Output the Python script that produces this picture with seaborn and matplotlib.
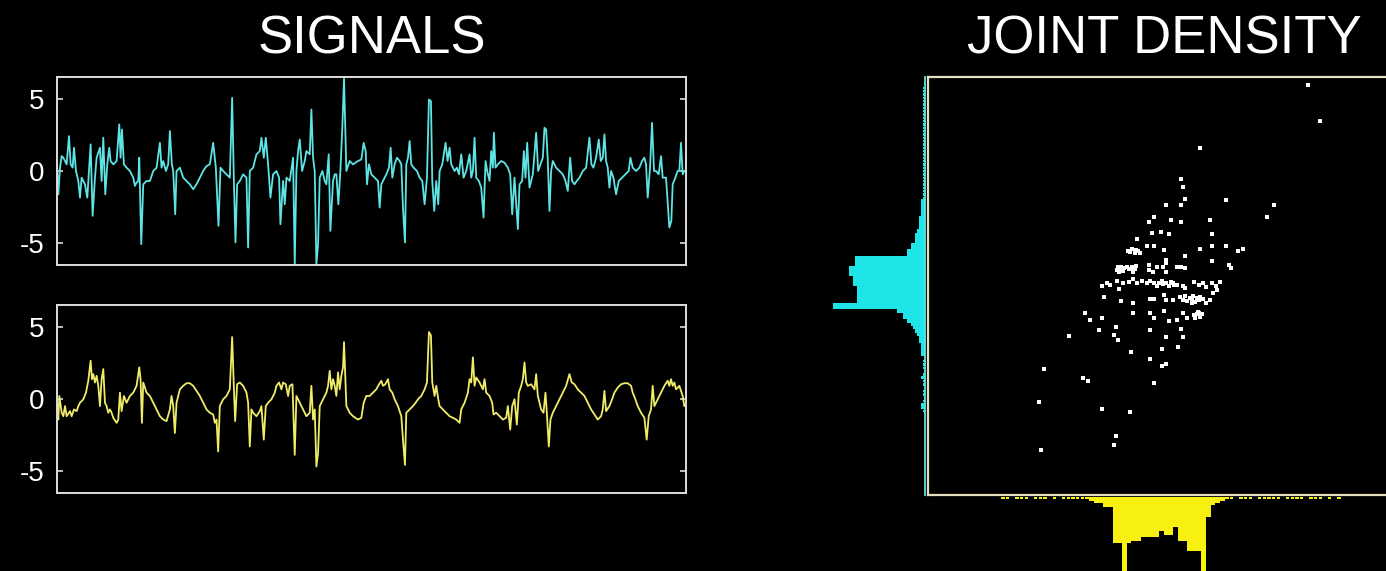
import numpy as np
import pandas as pd
import matplotlib
matplotlib.use("Agg")
import matplotlib.pyplot as plt
import seaborn as sns

# ---------------------------------------------------------------- data
# Signal 1 (cyan): sample time (ms) and amplitude
cyan_t = [1, 4, 9, 14, 19, 29, 36, 41, 47, 51,
          57, 64, 69, 74, 84, 91, 101, 107, 114, 119,
          129, 134, 139, 145, 151, 157, 161, 169, 179, 187,
          191, 195, 201, 209, 219, 229, 234, 239, 244, 247,
          253, 259, 269, 279, 289, 299, 309, 314, 319, 327,
          334, 339, 345, 349, 355, 359, 369, 379, 389, 399,
          409, 419, 429, 439, 449, 459, 469, 477, 485, 491,
          499, 509, 519, 526, 531, 536, 541, 549, 559, 569,
          574, 579, 589, 599, 609, 614, 621, 627, 634, 641,
          649, 659, 667, 671, 679, 684, 689, 699, 709, 714,
          719, 724, 729, 736, 744, 749, 759, 764, 769, 774,
          779, 784, 789, 797, 804, 809, 816, 821, 829, 834,
          839, 845, 851, 857, 862,
          869, 879, 889, 904, 914, 921, 927, 931, 937, 944,
          954, 964, 969, 974, 979, 989, 997, 1002, 1007, 1014,
          1021, 1029, 1034, 1039, 1045, 1049, 1054, 1059, 1064, 1071,
          1081, 1089, 1097, 1104, 1111, 1117, 1123, 1127, 1133, 1139,
          1145, 1149, 1157, 1167, 1173, 1179, 1184, 1194, 1201, 1207,
          1214, 1221, 1229, 1239, 1244, 1249, 1254, 1259, 1267, 1274,
          1281, 1287, 1292, 1299, 1304, 1309, 1312, 1317, 1324, 1334,
          1344, 1354, 1361, 1367, 1374, 1384, 1389, 1397, 1402, 1407,
          1412, 1419, 1424, 1429, 1439, 1445, 1452, 1459, 1464, 1469,
          1474, 1479, 1484, 1489, 1499, 1509, 1519, 1527, 1534, 1541,
          1547, 1554, 1561, 1569, 1579, 1589, 1599, 1605, 1611, 1619,
          1627, 1633, 1639, 1644, 1649, 1654, 1659, 1664, 1671, 1679,
          1687, 1697, 1707, 1717, 1722, 1729, 1739, 1749, 1757, 1764,
          1769, 1774, 1781, 1787, 1793, 1799, 1807, 1814, 1819, 1829,
          1839, 1845, 1849, 1857, 1864, 1869, 1874, 1879, 1884]
cyan_v = [0.00, -1.61, 0.23, 1.03, 0.92, 0.46, 2.41, 0.46, 0.23, 1.61,
          0.00, -0.69, -1.84, -0.46, -0.92, -1.84, 1.84, -3.10, -0.46, 0.92,
          1.61, -0.69, 2.30, -1.61, 0.46, 1.61, 0.69, 0.46, 0.69, 3.22,
          0.92, 2.87, 0.46, 0.23, 0.00, -0.46, -1.03, -0.80, -0.69, 0.92,
          -5.06, -0.92, -0.69, -0.69, 0.00, 0.23, 1.95, 0.23, 0.69, 0.00,
          0.46, 2.76, 0.46, 0.00, -2.99, 0.00, 0.23, -0.46, -0.69, -0.92,
          -1.26, -0.92, -0.46, 0.00, 0.34, 0.46, 1.95, 0.23, -3.79, 0.23,
          0.00, -0.23, -0.46, 5.06, -0.46, -4.94, -0.92, -0.69, -0.23, -0.46,
          -5.29, 0.00, 0.23, 1.15, 1.38, 2.30, 0.92, 2.30, 0.46, -1.84,
          -0.23, 0.00, -0.46, -3.68, -0.69, -2.30, -0.46, -0.69, 0.92, -6.44,
          0.00, 1.38, 2.18, 0.00, 0.69, 1.38, 1.15, 4.25, 0.92, 0.00,
          -6.44, -5.06, -0.46, 0.00, -0.69, -0.92, 1.15, -4.14, -0.69, -0.23,
          -0.23, -2.30, 0.00, 3.10, 6.40,
          0.00, 0.69, 0.46, 0.69, 0.80, 1.95, 1.38, -0.92, 0.46, -0.23,
          -0.46, -0.69, -2.53, -0.92, -0.69, -0.23, 0.23, 1.61, -0.46, 0.46,
          0.92, 0.69, 0.46, -2.53, -4.94, 0.46, 0.92, 2.07, 0.46, 0.23,
          0.00, -0.46, -0.69, -2.30, -0.46, 4.94, 4.83, -0.69, -2.76, -0.69,
          -2.30, 0.00, 0.46, 1.95, 0.69, 1.61, 0.46, 0.00, 0.23, -0.23,
          1.15, -0.46, 0.00, 1.15, -0.46, 0.00, 2.30, -0.46, -0.69, -1.15,
          -3.22, 0.69, 0.00, -0.69, 1.38, 0.23, 2.64, 0.23, 0.46, 0.69,
          0.57, 0.23, -0.23, -2.99, -0.46, -4.02, -0.92, -0.69, 1.38, -0.46,
          1.95, -1.15, -0.69, -0.23, 2.64, 0.00, 0.46, 0.92, 2.99, 2.87,
          0.69, -2.76, 0.00, 0.69, 0.23, 0.00, -0.23, -0.69, -1.38, 0.92,
          -0.69, -0.92, -0.69, -0.46, 0.00, 0.23, 2.30, 0.46, 0.23, 0.92,
          2.18, 0.69, 0.92, 2.53, 0.69, 0.23, -1.15, 0.00, -0.46, -1.61,
          -0.69, -0.46, -0.23, 0.00, 0.92, 0.23, 0.00, 0.23, 0.69, 0.92,
          0.46, -1.84, 0.23, 3.33, 0.00, 0.00, -0.23, 1.03, -0.46, -0.46,
          -3.91, -3.45, -0.92, -0.46, 0.00, 0.00, 1.95, -0.23, 0.00]

# Signal 2 (yellow): sample time (ms) and amplitude
yellow_t = [1, 4, 7, 14, 19, 24, 29, 39, 44, 51,
            59, 64, 69, 79, 87, 94, 101, 105, 109, 114,
            119, 124, 129, 134, 139, 144, 149, 154, 159, 164,
            169, 179, 184, 189, 194, 201, 209, 219, 229, 239,
            247, 251, 255, 259, 269, 279, 289, 299, 309, 319,
            329, 339, 344, 349, 354, 359, 369, 379, 389, 399,
            409, 419, 429, 439, 449, 459, 469, 474, 479, 484,
            489, 499, 509, 519, 526, 531, 535, 541, 549, 559,
            569, 574, 579, 584, 589, 599, 609, 614, 621, 627,
            634, 644, 654, 659, 667, 674, 679, 687, 694, 699,
            707, 714, 719, 729, 739, 749, 759, 764, 769, 774,
            779, 784, 789, 799, 809, 814, 819, 824, 829, 834,
            839, 844, 849, 854, 859, 862,
            869, 879, 889, 904, 914, 921, 929, 939, 949, 959,
            967, 974, 979, 986, 994, 999, 1007, 1014, 1024, 1034,
            1039, 1045, 1049, 1059, 1069, 1077, 1084, 1094, 1104, 1111,
            1117, 1123, 1127, 1134, 1139, 1145, 1149, 1159, 1169, 1179,
            1189, 1199, 1209, 1214, 1224, 1234, 1239, 1244, 1249, 1254,
            1259, 1269, 1279, 1284, 1289, 1299, 1307, 1311, 1319, 1329,
            1339, 1349, 1354, 1361, 1367, 1374, 1381, 1387, 1394, 1399,
            1404, 1409, 1414, 1424, 1434, 1439, 1444, 1449, 1454, 1461,
            1467, 1471, 1477, 1482, 1489, 1499, 1509, 1519, 1529, 1539,
            1546, 1554, 1564, 1574, 1584, 1594, 1604, 1614, 1624, 1634,
            1639, 1644, 1649, 1659, 1667, 1674, 1684, 1694, 1704, 1714,
            1724, 1729, 1737, 1744, 1754, 1764, 1771, 1777, 1784, 1789,
            1794, 1804, 1814, 1824, 1834, 1839, 1844, 1849, 1854, 1859,
            1869, 1879, 1884]
yellow_v = [-0.49, -1.42, 0.21, -0.95, -1.19, -0.49, -1.19, -0.84, -1.19, -0.72,
            -0.84, -0.49, -0.26, -0.02, 0.44, 1.26, 2.65, 1.37, 1.72, 1.14,
            1.60, 0.91, -0.49, 1.37, 2.07, -0.26, -0.49, -0.95, -0.72, -0.95,
            -1.30, -1.65, -1.42, 0.44, -0.84, 0.21, -0.26, 0.21, 0.44, 0.91,
            2.19, 1.37, -1.65, 1.14, 0.44, 0.21, -0.26, -0.72, -1.19, -1.42,
            -1.53, -0.72, 0.21, -0.49, -2.35, -0.26, 0.67, 0.91, 1.09, 1.09,
            0.91, 0.56, 0.21, -0.26, -0.72, -0.95, -1.07, -1.65, -1.42, -3.63,
            -0.49, -0.02, 0.21, 0.67, 4.28, 0.91, -1.53, 1.02, 1.14, 0.91,
            0.44, -0.26, -3.28, -0.72, -0.95, -1.19, -0.84, -0.49, -2.81, -0.49,
            -0.26, -0.02, 0.44, 0.91, 1.14, 0.67, 1.14, 1.02, 0.21, 0.91,
            1.02, -3.86, 0.21, -0.26, -0.72, -1.19, -0.95, 0.91, -1.42, -0.72,
            -4.67, -3.74, -0.49, -0.02, 0.44, 0.91, 1.95, 0.67, 1.37, 0.91,
            0.21, 1.84, 0.67, 1.60, 2.19, 3.93,
            -0.49, -0.95, -1.19, -1.42, -1.30, -0.26, 0.21, 0.21, 0.44, 0.67,
            1.02, 1.26, 0.91, 1.02, 1.37, 0.67, 0.44, -0.02, -0.49, -1.19,
            -2.81, -4.56, -0.95, -0.72, -0.49, -0.26, -0.02, 0.21, 0.67, 1.14,
            4.63, 4.40, 1.14, 0.21, 0.91, -0.02, -0.49, -0.72, -0.95, -1.19,
            -1.30, -1.42, -1.65, -0.72, -0.26, 0.44, 1.37, 1.14, 2.88, 0.91,
            1.49, 1.14, 0.67, 1.37, 0.44, 0.21, -0.26, -1.07, -0.95, -1.19,
            -1.42, -1.30, -0.49, -2.12, -0.49, -0.02, -1.77, 0.44, 0.91, 1.37,
            2.53, 1.14, 0.91, 1.02, 0.67, 1.72, 0.21, -0.26, -0.72, -0.95,
            0.44, -0.95, -3.28, -1.42, -0.95, -0.49, -0.02, 0.44, 0.91, 1.72,
            1.14, 1.02, 0.67, 0.44, 0.21, -0.26, -0.72, -1.07, -1.42, -1.19,
            -0.72, 0.56, -0.84, -0.49, -0.02, 0.44, 0.79, 1.02, 1.09, 1.09,
            0.91, 0.44, -0.02, -0.49, -0.95, -1.30, -2.81, -1.19, -0.72, 0.91,
            -0.49, -0.02, 0.44, 0.91, 1.26, 0.91, 1.37, 0.91, 1.14, 0.67,
            0.91, 0.21, -0.49]

# Joint samples: x = signal 2 (yellow), y = signal 1 (cyan)
joint_x = [3.08, 3.34, 0.77, 0.36, 0.41, 0.46, 0.05, 0.36, 1.34, 2.36,
           2.21, 0.98, -0.21, -0.32, 0.15, 0.36, -0.26, -0.06, 0.10, 1.03,
           -0.57, -0.36, -0.21, 0.00, 0.77, 1.03, 1.34, 1.59, 1.70, 0.46,
           1.03, 1.39, 1.43, -0.78, -0.69, -0.60, -0.51, -0.62, -0.72, -0.55,
           0.05, 0.05, -0.03, 0.05, 0.27, 0.36, 0.46, -0.32, -0.32, -0.24,
           -0.16, -0.98, -0.91, -0.80, -0.69, -0.62, -0.59, -0.96, -1.01, -0.66,
           -0.95, -0.85, -0.75, -0.70, -0.88, -0.93, -0.64, -1.33, -1.23, -1.16,
           -1.00, -0.96, -0.87, -0.76, -0.67, -0.57, -0.48, -0.37, -0.30, -0.21,
           -0.16, -0.05, 0.04, 0.10, 0.20, 0.27, 0.40, 0.46, 0.64, 0.74,
           0.84, 0.91, 1.03, 1.11, 1.19, 1.13, 1.06, -0.10, 0.15, -0.02,
           0.22, -1.28, -0.93, -0.66, -0.30, -0.21, 0.00, 0.05, 0.20, 0.34,
           0.40, 0.49, 0.59, 0.66, 0.75, 0.84, 0.91, 0.99, 0.45, 0.55,
           0.62, 0.70, 0.78, 0.60, -1.69, -1.59, -1.34, -0.67, -0.31, -0.21,
           0.00, 0.10, 0.27, 0.41, 0.49, 0.65, 0.74, 0.77, 0.70, 0.78,
           0.66, 0.72, 0.82, -2.04, -1.39, -1.08, -1.03, -0.98, -0.31, 0.05,
           0.36, 0.41, -0.05, 0.31, -0.71, -2.57, -0.31, -0.05, 0.05, -1.74,
           -1.64, -0.21, -2.67, -1.34, -0.72, -1.03, -1.08, -2.63]
joint_y = [6.03, 4.95, 4.15, 3.22, 2.96, 2.60, 2.42, 2.42, 2.57, 2.43,
           2.07, 1.99, 2.07, 1.92, 1.97, 1.92, 1.60, 1.62, 1.56, 1.56,
           1.42, 1.20, 1.20, 1.08, 1.12, 1.20, 1.20, 1.05, 1.12, 0.91,
           0.76, 0.62, 0.54, 1.05, 1.11, 1.08, 0.98, 0.98, 1.02, 1.05,
           0.78, 0.68, 0.56, 0.42, 0.56, 0.56, 0.55, 0.63, 0.48, 0.42,
           0.58, 0.58, 0.50, 0.56, 0.58, 0.50, 0.60, 0.43, 0.48, 0.43,
           0.52, 0.55, 0.50, 0.52, 0.45, 0.58, 0.58, 0.00, 0.08, 0.03,
           0.15, -0.09, 0.08, 0.13, 0.20, 0.08, 0.16, 0.08, 0.16, 0.08,
           0.00, 0.16, 0.08, 0.00, 0.08, 0.03, 0.00, -0.07, 0.13, 0.03,
           0.08, -0.02, 0.08, 0.00, 0.12, -0.12, -0.22, 0.10, 0.12, 0.05,
           0.03, -0.32, -0.44, -0.52, -0.38, -0.38, -0.28, -0.42, -0.42, -0.32,
           -0.42, -0.44, -0.40, -0.47, -0.42, -0.40, -0.52, -0.42, -0.30, -0.35,
           -0.30, -0.36, -0.33, -0.50, -0.82, -1.02, -0.96, -0.82, -0.82, -0.97,
           -0.74, -1.04, -1.02, -0.82, -0.97, -0.87, -0.80, -0.92, -0.85, -0.90,
           -0.95, -0.78, -0.85, -1.49, -1.32, -1.47, -1.24, -1.62, -1.32, -1.54,
           -1.28, -1.54, -1.90, -1.83, -1.97, -2.48, -2.18, -2.40, -2.33, -2.76,
           -2.84, -2.91, -3.49, -3.70, -3.77, -4.49, -4.78, -4.92]

# Marginal of signal 1: counts in 0.1-wide bins starting at -3.8
cyan_bin_start = -3.8
cyan_counts = [1, 2, 2, 1, 0, 1, 1, 0, 1, 1, 2, 1, 0, 1, 1, 1, 0, 2, 2,
               2, 2, 3, 3, 4, 5, 6, 7, 9, 11, 11, 14, 46, 46, 34, 34, 34, 34, 34,
               36, 36, 36, 38, 38, 38, 35, 35, 35, 9,
               9, 7, 7, 5, 5, 5, 4, 3, 3, 3,
               3, 2, 2, 2, 2, 2, 1, 1, 1, 1,
               1, 1, 1, 1, 1, 1, 1, 1, 1, 1,
               1, 1, 1, 1, 1, 1, 1, 1, 1, 1,
               1, 1, 1, 1, 1, 1, 1, 1, 1, 1]

# Marginal of signal 2: counts in 0.1-wide bins starting at -3.5
yellow_bin_start = -3.5
yellow_counts = [1, 1, 0, 1, 1, 1, 0, 1, 1, 1,
                 0, 1, 0, 1, 1, 1, 1, 1, 1, 2,
                 3, 3, 5, 5, 23, 23, 40, 23, 22, 22,
                 20, 20, 20, 20, 17, 19, 19, 15, 22, 22,
                 27, 27, 27, 40, 10, 4, 3, 2, 1, 1,
                 0, 1, 1, 1, 0, 1, 1, 1, 1, 1,
                 0, 1, 1, 1, 1, 0, 1, 1, 1, 0,
                 1, 0, 1]
bin_width = 0.1

signal_ticks = [-5, 0, 5]
signal_tick_labels = ["-5", "0", "5"]
titles = ["SIGNALS", "JOINT DENSITY"]

# ---------------------------------------------------------------- style
CYAN_LINE = "#5ee4e4"
CYAN_FILL = "#1ee6e8"
YELLOW_LINE = "#f0ec68"
YELLOW_FILL = "#f8f010"
BOX = "#dedede"
BOX2 = "#e4e0c0"

sns.set_theme(style="white")
plt.rcParams["font.family"] = ["Liberation Sans", "DejaVu Sans"]
plt.rcParams["axes.unicode_minus"] = False

W, H = 1386, 571
fig = plt.figure(figsize=(W / 100, H / 100), dpi=100, facecolor="black")


def px_axes(x0, y0, x1, y1):
    return fig.add_axes([x0 / W, 1 - y1 / H, (x1 - x0) / W, (y1 - y0) / H])


ax_top = px_axes(57, 77, 686, 265)
ax_bot = px_axes(57, 305, 686, 493)
ax_joint = px_axes(928, 77, 1400, 495)
ax_hc = px_axes(820, 77, 925, 495)
ax_hy = px_axes(928, 497, 1400, 597)

# ---------------------------------------------------------------- signals
for ax, t, v, col in [(ax_top, cyan_t, cyan_v, CYAN_LINE),
                      (ax_bot, yellow_t, yellow_v, YELLOW_LINE)]:
    ax.set_facecolor("black")
    sig = pd.DataFrame({"t": t, "v": v})
    sns.lineplot(data=sig, x="t", y="v", ax=ax, color=col, linewidth=1.3,
                 estimator=None, sort=False)
    ax.set_xlim(0, 1889)
    ax.set_ylim(-6.5, 6.5)
    ax.set_xticks([])
    ax.set_yticks(signal_ticks)
    ax.set_yticklabels(signal_tick_labels)
    ax.tick_params(axis="y", direction="in", length=4, width=1.2,
                   color=BOX, left=True, right=True, labelsize=20,
                   labelcolor="white", pad=9)
    ax.set_xlabel("")
    ax.set_ylabel("")
    for s in ax.spines.values():
        s.set_visible(True)
        s.set_color(BOX)
        s.set_linewidth(1.4)

ax_top.set_title(titles[0], fontsize=38, color="white", pad=17)

# ---------------------------------------------------------------- joint scatter
ax_joint.set_facecolor("black")
joint = pd.DataFrame({"s2": joint_x, "s1": joint_y})
sns.scatterplot(data=joint, x="s2", y="s1", ax=ax_joint, color="white",
                marker="s", s=6, linewidth=0)
ax_joint.set_xlim(-5.06, 5.06)
ax_joint.set_ylim(-6.27, 6.27)
ax_joint.set_xticks([])
ax_joint.set_yticks([])
ax_joint.set_xlabel("")
ax_joint.set_ylabel("")
for s in ax_joint.spines.values():
    s.set_visible(True)
    s.set_color(BOX2)
    s.set_linewidth(1.6)
ax_joint.set_title(titles[1], fontsize=38, color="white", pad=17)


# ---------------------------------------------------------------- marginals
def draw_marginal(ax, counts, start, orient, color):
    counts = np.asarray(counts, dtype=float)
    edges = np.round(start + bin_width * np.arange(len(counts) + 1), 2)
    centers = edges[:-1] + bin_width / 2
    solid = counts >= 2
    sparse = counts == 1
    for mask, shrink in [(solid, 1.0), (sparse, 0.7)]:
        df = pd.DataFrame({"value": centers[mask], "n": counts[mask]})
        kw = dict(data=df, weights="n", bins=edges.tolist(), ax=ax,
                  color=color, alpha=1, linewidth=0, edgecolor="none",
                  shrink=shrink)
        if orient == "y":
            sns.histplot(y="value", **kw)
        else:
            sns.histplot(x="value", **kw)
    ax.set_facecolor("none")
    ax.set_xticks([])
    ax.set_yticks([])
    ax.set_xlabel("")
    ax.set_ylabel("")
    for s in ax.spines.values():
        s.set_visible(False)


draw_marginal(ax_hc, cyan_counts, cyan_bin_start, "y", CYAN_FILL)
ax_hc.set_xlim(52.5, 0)
ax_hc.set_ylim(-6.27, 6.27)
ax_hc.spines["right"].set_visible(True)
ax_hc.spines["right"].set_color(CYAN_LINE)
ax_hc.spines["right"].set_linewidth(1.3)

draw_marginal(ax_hy, yellow_counts, yellow_bin_start, "x", YELLOW_FILL)
ax_hy.set_xlim(-5.06, 5.06)
ax_hy.set_ylim(50, 0)

fig.savefig("out.png", dpi=100, facecolor="black")
